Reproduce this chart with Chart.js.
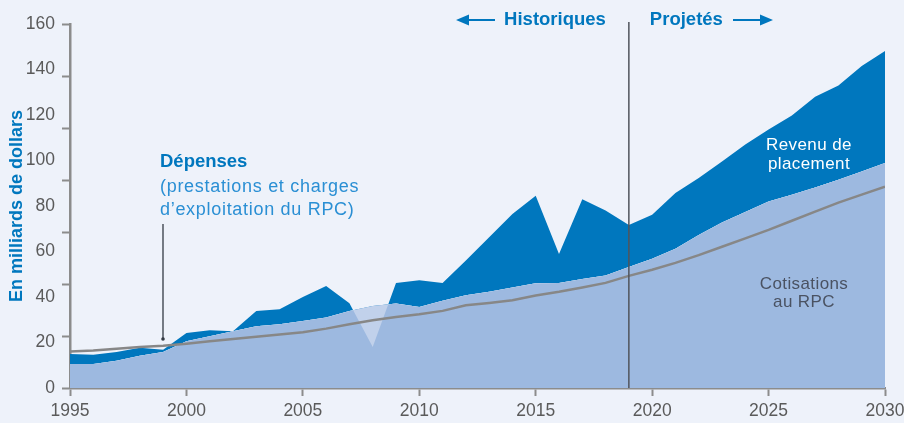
<!DOCTYPE html>
<html>
<head>
<meta charset="utf-8">
<script src="https://cdn.jsdelivr.net/npm/chart.js@4"></script>
<style>
  html, body { margin: 0; padding: 0; background: #eef2fa; }
  #wrap { width: 904px; height: 423px; }
</style>
</head>
<body>
<div id="wrap"><canvas id="rpcChart" width="904" height="423"></canvas></div>
<script>
// years on the x axis
const years = [1995, 1996, 1997, 1998, 1999, 2000, 2001, 2002, 2003, 2004,
    2005, 2006, 2007, 2008, 2009, 2010, 2011, 2012, 2013, 2014,
    2015, 2016, 2017, 2018, 2019, 2020, 2021, 2022, 2023, 2024,
    2025, 2026, 2027, 2028, 2029, 2030];

// Cotisations au RPC (light area)
const cotisations = [10.5, 10.5, 12, 14.2, 15.8, 20.6, 22.7, 24.9, 27.1, 28,
    29.5, 31, 33.9, 36, 37.1, 35.6, 38.3, 40.8, 42.3, 44.2,
    46, 46.2, 47.9, 49.5, 53.2, 56.8, 61.2, 67.3, 72.7, 77.4,
    82, 84.9, 88.1, 91.5, 95.2, 98.9];

// cotisations + revenu de placement (top of dark area)
const revenusTotaux = [15, 14.6, 15.8, 17.7, 16.8, 24.2, 25.4, 24.9, 33.9, 34.6,
    40, 44.8, 37.3, 18, 46.2, 47.4, 46.2, 56, 66.3, 76.5,
    84.5, 58.9, 83, 78, 71.7, 76.2, 85.7, 92.3, 99.6, 107,
    113.6, 119.8, 128, 133, 141.5, 148.1];

// Dépenses (grey line)
const depenses = [16, 16.5, 17.3, 18, 18.6, 19.5, 20.5, 21.5, 22.5, 23.5,
    24.5, 26.1, 28, 29.8, 31.2, 32.4, 33.9, 36.4, 37.4, 38.6,
    40.7, 42.3, 44.2, 46.2, 49.3, 52, 55, 58.4, 62.1, 65.8,
    69.5, 73.5, 77.5, 81.5, 85, 88.5];

const xTickLabels = [1995, 2000, 2005, 2010, 2015, 2020, 2025, 2030];
const yTickLabels = [0, 20, 40, 60, 80, 100, 120, 140, 160];
const yTickMarks = [0, 1, 2, 3, 4, 5, 6, 7].map(i => i * 160 / 7);
const splitYear = 2019;

const dark = "#0077be";
const light = "#9db9e0";
const pale = "#c1d1eb";
const axisGrey = "#8c8c8c";
const textGrey = "#5a5a5a";
const fontFam = "'Liberation Sans', Arial, sans-serif";

const toPoints = arr => years.map((yr, i) => ({ x: yr, y: arr[i] }));
const near = (list, v) => list.some(t => Math.abs(t - v) < 1e-6);

const annotations = {
    id: "annotations",
    afterDatasetsDraw(chart) {
        const c = chart.ctx;
        const xs = chart.scales.x;
        const ys = chart.scales.y;
        c.save();

        // split line historiques / projetés
        const sx = xs.getPixelForValue(splitYear);
        c.strokeStyle = "#50545c";
        c.lineWidth = 1.5;
        c.beginPath();
        c.moveTo(sx, 22);
        c.lineTo(sx, ys.getPixelForValue(0));
        c.stroke();

        c.fillStyle = dark;
        c.strokeStyle = dark;
        c.font = "bold 18.5px " + fontFam;
        c.textBaseline = "middle";
        c.textAlign = "right";
        c.fillText("Historiques", sx - 23, 20);
        c.textAlign = "left";
        c.fillText("Projetés", sx + 21, 20);

        // arrows
        c.lineWidth = 2;
        c.beginPath();
        c.moveTo(495, 20); c.lineTo(465, 20);
        c.moveTo(733, 20); c.lineTo(764, 20);
        c.stroke();
        c.beginPath();
        c.moveTo(456, 20); c.lineTo(469, 14.5); c.lineTo(469, 25.5); c.closePath();
        c.moveTo(773, 20); c.lineTo(760, 14.5); c.lineTo(760, 25.5); c.closePath();
        c.fill();

        // Dépenses label
        c.textAlign = "left";
        c.font = "bold 18.5px " + fontFam;
        c.fillStyle = dark;
        c.fillText("Dépenses", 160, 162);
        c.font = "18px " + fontFam;
        c.letterSpacing = "0.7px";
        c.fillStyle = "#2a8fd4";
        c.fillText("(prestations et charges", 160, 187);
        c.fillText("d\u2019exploitation du RPC)", 160, 210);

        c.strokeStyle = "#333a44";
        c.lineWidth = 1.3;
        c.beginPath();
        c.moveTo(163, 224);
        c.lineTo(163, 338);
        c.stroke();
        c.fillStyle = "#333a44";
        c.beginPath();
        c.arc(163, 339, 1.8, 0, Math.PI * 2);
        c.fill();

        // area labels
        c.textAlign = "center";
        c.font = "17px " + fontFam;
        c.letterSpacing = "0.4px";
        c.fillStyle = "#ffffff";
        c.fillText("Revenu de", 809, 145);
        c.fillText("placement", 809, 164);
        c.fillStyle = "#4a5262";
        c.fillText("Cotisations", 804, 284);
        c.fillText("au RPC", 804, 302);

        c.restore();
    }
};

const ctx = document.getElementById("rpcChart").getContext("2d");
new Chart(ctx, {
    type: "line",
    data: {
        datasets: [
            {
                label: "Dépenses",
                data: toPoints(depenses),
                borderColor: "#878787",
                borderWidth: 2.5,
                fill: false,
                order: 0
            },
            {
                label: "Cotisations au RPC",
                data: toPoints(cotisations),
                borderWidth: 0,
                borderColor: "rgba(0,0,0,0)",
                fill: { target: "origin", above: light },
                order: 2
            },
            {
                label: "Revenu de placement",
                data: toPoints(revenusTotaux),
                borderWidth: 0,
                borderColor: "rgba(0,0,0,0)",
                fill: { target: 1, above: dark, below: pale },
                order: 1
            }
        ]
    },
    options: {
        responsive: false,
        animation: false,
        events: [],
        elements: { point: { radius: 0 }, line: { tension: 0 } },
        layout: { padding: { left: 0, right: 19, top: 24, bottom: 0 } },
        plugins: {
            legend: { display: false },
            tooltip: { enabled: false }
        },
        scales: {
            x: {
                type: "linear",
                min: 1995,
                max: 2030,
                afterFit(scale) {
                    scale.height = 35;
                    scale.paddingLeft = 0;
                    scale.paddingRight = 0;
                },
                afterBuildTicks(scale) {
                    scale.ticks = xTickLabels.map(v => ({ value: v }));
                },
                grid: {
                    drawOnChartArea: false,
                    tickLength: 8,
                    tickColor: axisGrey,
                    tickWidth: 2
                },
                border: { color: axisGrey, width: 2.5 },
                ticks: {
                    color: textGrey,
                    padding: 5,
                    font: { family: fontFam, size: 17.5 },
                    maxRotation: 0,
                    callback: v => String(v)
                }
            },
            y: {
                min: 0,
                max: 160,
                afterFit(scale) {
                    scale.width = 70;
                    scale.paddingTop = 0;
                    scale.paddingBottom = 0;
                },
                afterBuildTicks(scale) {
                    const vals = yTickLabels.slice();
                    yTickMarks.forEach(v => { if (!near(vals, v)) vals.push(v); });
                    vals.sort((a, b) => a - b);
                    scale.ticks = vals.map(v => ({ value: v }));
                },
                grid: {
                    drawOnChartArea: false,
                    tickLength: 8,
                    tickWidth: 2,
                    tickColor: c => (c.tick && near(yTickMarks, c.tick.value)) ? axisGrey : "rgba(0,0,0,0)"
                },
                border: { color: axisGrey, width: 2.5 },
                ticks: {
                    color: textGrey,
                    padding: 7,
                    autoSkip: false,
                    font: { family: fontFam, size: 17.5 },
                    callback: v => near(yTickLabels, v) ? String(Math.round(v)) : ""
                },
                title: {
                    display: true,
                    text: "En milliards de dollars",
                    color: dark,
                    font: { family: fontFam, size: 18, weight: "bold" },
                    padding: { top: 6, bottom: 0 }
                }
            }
        }
    },
    plugins: [annotations]
});
</script>
</body>
</html>
